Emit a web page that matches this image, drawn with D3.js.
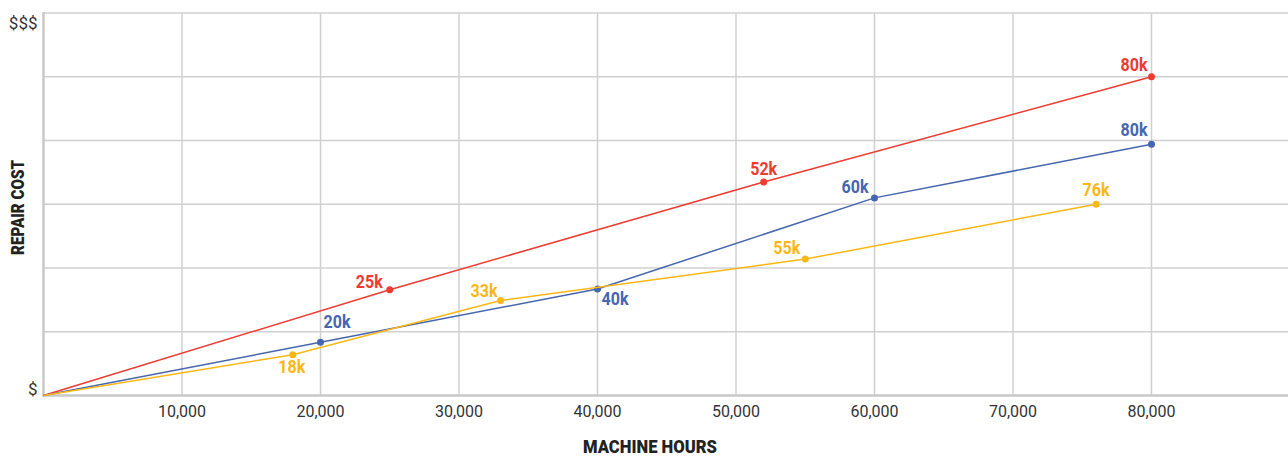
<!DOCTYPE html>
<html>
<head>
<meta charset="utf-8">
<script src="https://cdn.jsdelivr.net/npm/d3@7"></script>
<style>
  body { margin: 0; background: #fff; }
  svg { display: block; }
  .grid line { stroke: #d0d0d0; stroke-width: 1.5; }
  .axisline { stroke: #c8c8c8; stroke-width: 2.5; }
  .tick-label { font-family: Roboto, "Liberation Sans", sans-serif; font-size: 16px; fill: #333; }
  .title { font-family: Roboto, "Liberation Sans", sans-serif; font-weight: 900; font-size: 18px; fill: #222; }
  .pt-label { font-family: Roboto, "Liberation Sans", sans-serif; font-weight: bold; font-size: 18.5px; }
</style>
</head>
<body>
<div id="chart"></div>
<script>
// machine hours on x, relative repair cost (grid units, $ .. $$$) on y
const xTicks = [10000, 20000, 30000, 40000, 50000, 60000, 70000, 80000];
const yTicks = [0, 1, 2, 3, 4, 5, 6];
const yTickLabels = {0: "$", 6: "$$$"};

const redHours = [0, 25000, 52000, 80000];
const redCost = [0, 1.66, 3.35, 5.0];
const redLabels = ["", "25k", "52k", "80k"];

const blueHours = [0, 20000, 40000, 60000, 80000];
const blueCost = [0, 0.835, 1.67, 3.10, 3.94];
const blueLabels = ["", "20k", "40k", "60k", "80k"];

const yellowHours = [0, 18000, 33000, 55000, 76000];
const yellowCost = [0, 0.64, 1.49, 2.14, 3.0];
const yellowLabels = ["", "18k", "33k", "55k", "76k"];

// label placement per point: [anchor, dx, dy]
const redPos = [null, ["end", -7, -2], ["middle", 0, -7], ["end", -4, -6]];
const bluePos = [null, ["start", 3, -14], ["start", 4, 16], ["end", -6, -5], ["end", -4, -8]];
const yellowPos = [null, ["middle", -1, 18], ["end", -3, -4], ["end", -5, -5], ["middle", 0, -8]];

const series = [
  {color: "#ee3b30", hours: redHours, cost: redCost, labels: redLabels, pos: redPos},
  {color: "#4666b0", hours: blueHours, cost: blueCost, labels: blueLabels, pos: bluePos},
  {color: "#fcb714", hours: yellowHours, cost: yellowCost, labels: yellowLabels, pos: yellowPos}
];

const width = 1288, height = 456;
const margin = {top: 13, right: -2, bottom: 60.5, left: 43.5};

const svg = d3.select("#chart").append("svg")
    .attr("width", width)
    .attr("height", height);

const x = d3.scaleLinear().domain([0, 90000]).range([margin.left, width - margin.right]);
const y = d3.scaleLinear().domain([0, 6]).range([height - margin.bottom, margin.top]);

// grid
const grid = svg.append("g").attr("class", "grid");
grid.selectAll("line.h").data(yTicks.slice(1)).enter().append("line")
    .attr("x1", margin.left).attr("x2", width)
    .attr("y1", d => y(d)).attr("y2", d => y(d));
grid.selectAll("line.v").data(xTicks).enter().append("line")
    .attr("x1", d => x(d)).attr("x2", d => x(d))
    .attr("y1", margin.top).attr("y2", y(0));

// axis lines
svg.append("line").attr("class", "axisline")
    .attr("x1", x(0)).attr("x2", x(0)).attr("y1", margin.top - 1).attr("y2", y(0) + 1);
svg.append("line").attr("class", "axisline")
    .attr("x1", x(0) - 1).attr("x2", width).attr("y1", y(0)).attr("y2", y(0));

// x tick labels
svg.selectAll("text.xt").data(xTicks).enter().append("text")
    .attr("class", "tick-label")
    .attr("x", d => x(d))
    .attr("y", 417)
    .attr("text-anchor", "middle")
    .text(d => d3.format(",")(d));

// y tick labels
svg.selectAll("text.yt").data(Object.keys(yTickLabels).map(Number)).enter().append("text")
    .attr("class", "tick-label")
    .style("font-size", "17px")
    .attr("x", 37.5)
    .attr("y", d => y(d) + (d === 0 ? -0.5 : 15.5))
    .attr("text-anchor", "end")
    .text(d => yTickLabels[d]);

// axis titles
svg.append("text").attr("class", "title")
    .attr("x", 650).attr("y", 453)
    .attr("text-anchor", "middle")
    .attr("textLength", 134).attr("lengthAdjust", "spacingAndGlyphs")
    .text("MACHINE HOURS");
svg.append("text").attr("class", "title")
    .attr("transform", "translate(23.5,207.5) rotate(-90)")
    .attr("text-anchor", "middle")
    .attr("textLength", 95).attr("lengthAdjust", "spacingAndGlyphs")
    .text("REPAIR COST");

const line = d3.line().x(d => x(d[0])).y(d => y(d[1]));

series.forEach(s => {
  const pts = s.hours.map((h, i) => [h, s.cost[i], s.labels[i], s.pos[i]]);
  const g = svg.append("g");
  g.append("path")
      .datum(pts)
      .attr("d", line)
      .attr("fill", "none")
      .attr("stroke", s.color)
      .attr("stroke-width", 1.5);
  const marked = pts.filter(d => d[2] !== "");
  g.selectAll("circle").data(marked).enter().append("circle")
      .attr("cx", d => x(d[0]))
      .attr("cy", d => y(d[1]))
      .attr("r", 3.5)
      .attr("fill", s.color);
  g.selectAll("text").data(marked).enter().append("text")
      .attr("class", "pt-label")
      .attr("x", d => x(d[0]) + d[3][1])
      .attr("y", d => y(d[1]) + d[3][2])
      .attr("text-anchor", d => d[3][0])
      .attr("fill", s.color)
      .attr("textLength", 27).attr("lengthAdjust", "spacingAndGlyphs")
      .text(d => d[2]);
});
</script>
</body>
</html>
